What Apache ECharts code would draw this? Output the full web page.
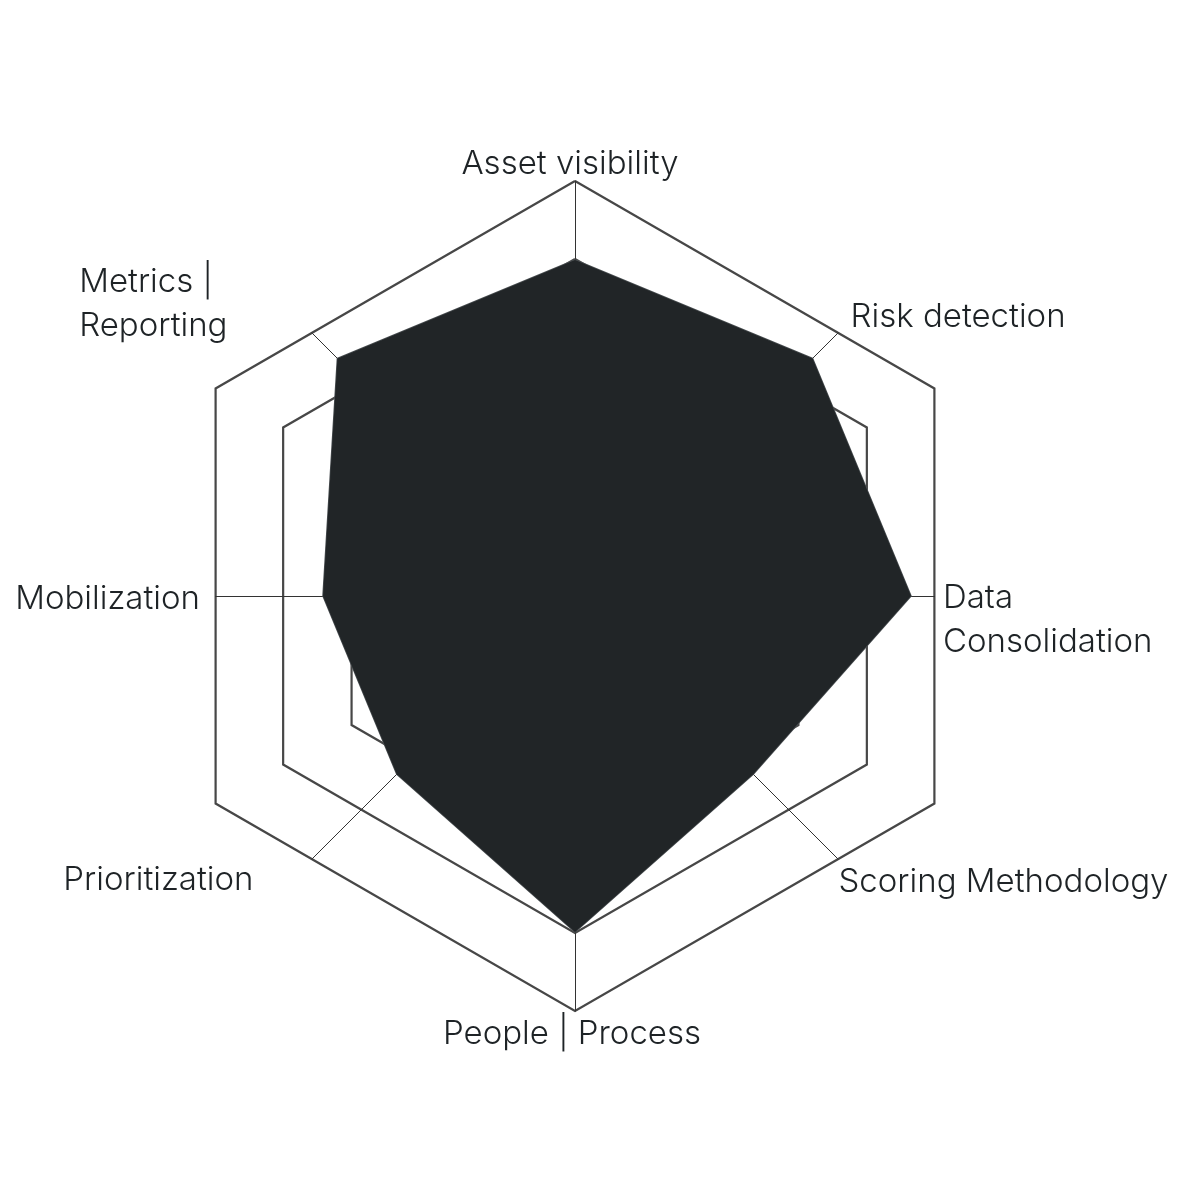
<!DOCTYPE html>
<html>
<head>
<meta charset="utf-8">
<script src="https://cdn.jsdelivr.net/npm/echarts@6/dist/echarts.min.js"></script>
<style>html,body{margin:0;padding:0;background:#fff}#chart{width:1200px;height:1200px}</style>
</head>
<body>
<div id="chart"></div>
<script>
// ---- data (clockwise from top) ----
const categories = ['Asset visibility', 'Risk detection', 'Data\nConsolidation', 'Scoring Methodology',
  'People | Process', 'Prioritization', 'Mobilization', 'Metrics |\nReporting'];
const scores = [4, 4, 4, 3, 4, 3, 3, 4];
const scoreMax = 5;

// ---- layout / style ----
const CX = 575, CY = 596;
const HEX_R = 415;             // outer hexagon circumradius
const ringRadii = [415, 337, 258];
const DATA_R = 420;
const NAME_GAP = -53;
const FONT = 'Inter, "Noto Sans", sans-serif';
// label fine-placement paddings [top, right, bottom, left], per category index
const labelPads = [
  [0, 10, 86, 0],
  [0, 0, 38, 16],
  [49, 0, 0, 1],
  [53, 0, 0, 4],
  [99, 6, 0, 0],
  [50, 62, 0, 0],
  [6, 8, 0, 0],
  [0, 88, 64, 0]
];

// ECharts radar lays indicators counter-clockwise: reorder
const order = [0, 7, 6, 5, 4, 3, 2, 1];
const indicators = order.map(i => ({ name: categories[i], min: 0, max: scoreMax }));
const values = order.map(i => scores[i]);

const rich = {};
categories.forEach((c, i) => {
  rich['l' + i] = {
    fontFamily: FONT, fontSize: 33, fontWeight: 300, color: '#1e2326',
    lineHeight: 44, padding: labelPads[i]
  };
  if (i === 7) rich['l' + i].align = 'left';
});

function ringRadar(r) {
  return {
    center: [CX, CY], radius: r, startAngle: 90, shape: 'polygon', splitNumber: 1,
    indicator: [0,1,2,3,4,5].map(() => ({ name: '', min: 0, max: 1 })),
    axisName: { show: false },
    axisLine: { show: false }, axisTick: { show: false }, axisLabel: { show: false },
    splitArea: { show: false },
    splitLine: { show: true, lineStyle: { color: '#474747', width: 2.2 } }
  };
}
function spokeRadar(count, start, r) {
  const ind = [];
  for (let k = 0; k < count; k++) ind.push({ name: '', min: 0, max: 1 });
  return {
    center: [CX, CY], radius: r, startAngle: start, shape: 'polygon',
    indicator: ind,
    axisName: { show: false },
    axisLine: { show: true, lineStyle: { color: '#333', width: 1 } },
    axisTick: { show: false }, axisLabel: { show: false },
    splitArea: { show: false }, splitLine: { show: false }
  };
}
const cos30 = Math.cos(Math.PI / 6), cos15 = Math.cos(Math.PI / 12);

const radars = [
  ...ringRadii.map(ringRadar),
  spokeRadar(2, 90, HEX_R),
  spokeRadar(4, 45, HEX_R * cos30 / cos15),
  spokeRadar(2, 0, HEX_R * cos30),
  {
    center: [CX, CY], radius: DATA_R, startAngle: 90, shape: 'polygon',
    indicator: indicators,
    axisNameGap: NAME_GAP,
    axisName: {
      show: true,
      formatter: function (name) {
        const i = categories.indexOf(name);
        return name.split('\n').map(s => '{l' + i + '|' + s + '}').join('\n');
      },
      rich: rich
    },
    axisLine: { show: false }, axisTick: { show: false }, axisLabel: { show: false },
    splitArea: { show: false }, splitLine: { show: false }
  }
];

const chart = echarts.init(document.getElementById('chart'), null, { renderer: 'canvas' });
chart.setOption({
  backgroundColor: '#ffffff',
  animation: false,
  radar: radars,
  series: [{
    type: 'radar',
    radarIndex: radars.length - 1,
    symbol: 'none',
    z: 5,
    lineStyle: { color: '#4a4f52', width: 1.5 },
    areaStyle: { color: '#212527', opacity: 1 },
    data: [{ value: values, name: 'Score' }]
  }]
});
</script>
</body>
</html>
